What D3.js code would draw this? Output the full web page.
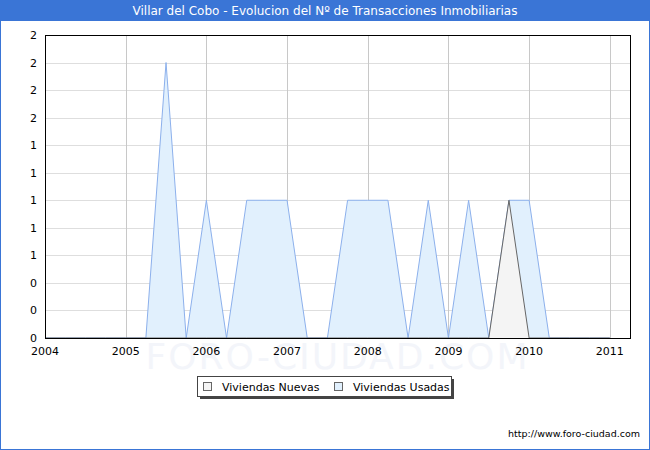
<!DOCTYPE html>
<html><head><meta charset="utf-8">
<script src="https://cdn.jsdelivr.net/npm/d3@7"></script>
<style>body{margin:0;background:#fff}svg{display:block}</style>
</head><body><svg id="c" width="650" height="450"></svg>
<script>
const title = "Villar del Cobo - Evolucion del Nº de Transacciones Inmobiliarias";
// quarterly points from 2004.00 to 2011.00
const quarters = d3.range(29).map(i => 2004 + i * 0.25);
const usadas = [0,0,0,0,0,0,2,0,1,0,1,1,1,0,0,1,1,1,0,1,0,1,0,1,1,0,0,0,0];
const nuevas = [0,0,0,0,0,0,0,0,0,0,0,0,0,0,0,0,0,0,0,0,0,0,0,1,0,0,0,0,0];
const yearTicks = [2004,2005,2006,2007,2008,2009,2010,2011];
const yTicks = d3.range(12).map(i => i * 0.2);
const legendLabels = ["Viviendas Nuevas","Viviendas Usadas"];

const svg = d3.select("#c");
const W = 650, H = 450;
const m = {l:45, r:630, t:35, b:338};
svg.append("rect").attr("x",0.5).attr("y",0.5).attr("width",W-1).attr("height",H-1).attr("fill","#fff").attr("stroke","#3a75d6");
svg.append("rect").attr("x",0).attr("y",0).attr("width",W).attr("height",21).attr("fill","#3a75d6");
svg.append("text").attr("x",W/2).attr("y",15).attr("text-anchor","middle").attr("fill","#fff")
  .style("font-family","DejaVu Sans").style("font-size","12px").text(title);

const x = d3.scaleLinear().domain([2004, 2011.25]).range([m.l, m.r]);
const y = d3.scaleLinear().domain([0, 2.2]).range([m.b, m.t]);

// watermark
svg.append("text").attr("x",(m.l+m.r)/2).attr("y",369).attr("text-anchor","middle")
  .attr("fill","#f3f5fa").style("font-family","DejaVu Sans").style("font-size","36px")
  .style("letter-spacing","2px").text("FORO-CIUDAD.COM");

const g = svg.append("g");
g.selectAll(".hg").data(yTicks).join("line").attr("x1",m.l).attr("x2",m.r)
  .attr("y1",d=>Math.round(y(d))+0.5).attr("y2",d=>Math.round(y(d))+0.5).attr("stroke","#dedede");
g.selectAll(".vg").data(yearTicks).join("line").attr("y1",m.t).attr("y2",m.b)
  .attr("x1",d=>Math.round(x(d))+0.5).attr("x2",d=>Math.round(x(d))+0.5).attr("stroke","#c8c8c8");

const area = d3.area().x((d,i)=>x(quarters[i])).y0(y(0)).y1(d=>y(d));
const line = d3.line().x((d,i)=>x(quarters[i])).y(d=>y(d));
g.append("path").datum(usadas).attr("d",area).attr("fill","#e1f0fd");
g.append("path").datum(usadas).attr("d",line).attr("fill","none").attr("stroke","#8cb0ec").attr("stroke-width",1);
g.append("path").datum(nuevas).attr("d",area).attr("fill","#f4f4f4");
g.append("path").datum(nuevas).attr("d",line).attr("fill","none").attr("stroke","#666").attr("stroke-width",1);

svg.append("rect").attr("x",m.l+0.5).attr("y",m.t+0.5).attr("width",m.r-m.l).attr("height",m.b-m.t)
  .attr("fill","none").attr("stroke","#000");

const fmt = d => String(Math.round(d));
svg.selectAll(".yl").data(yTicks).join("text").attr("x",37).attr("y",d=>y(d)+4)
  .attr("text-anchor","end").style("font-family","DejaVu Sans").style("font-size","11px").attr("fill","#000").text(fmt);
svg.selectAll(".xl").data(yearTicks).join("text").attr("x",d=>x(d)).attr("y",355)
  .attr("text-anchor","middle").style("font-family","DejaVu Sans").style("font-size","11px").attr("fill","#000").text(d=>d);

// legend
const lg = svg.append("g");
lg.append("rect").attr("x",200).attr("y",379).attr("width",254).attr("height",20).attr("fill","#444");
lg.append("rect").attr("x",197.5).attr("y",376.5).attr("width",254).attr("height",20).attr("fill","#fff").attr("stroke","#444");
const sw = [{x:203, fill:"#f4f4f4", stroke:"#666"},{x:334, fill:"#e1f0fd", stroke:"#666"}];
lg.selectAll(".sw").data(sw).join("rect").attr("x",d=>d.x+0.5).attr("y",382.5).attr("width",8).attr("height",8)
  .attr("fill",d=>d.fill).attr("stroke",d=>d.stroke);
lg.selectAll(".lt").data(legendLabels).join("text").attr("x",(d,i)=>sw[i].x+19).attr("y",391)
  .style("font-family","DejaVu Sans").style("font-size","11px").attr("fill","#000").text(d=>d);

svg.append("text").attr("x",640).attr("y",437).attr("text-anchor","end")
  .style("font-family","DejaVu Sans").style("font-size","9.5px").attr("fill","#000").text("http://www.foro-ciudad.com");
</script></body></html>
